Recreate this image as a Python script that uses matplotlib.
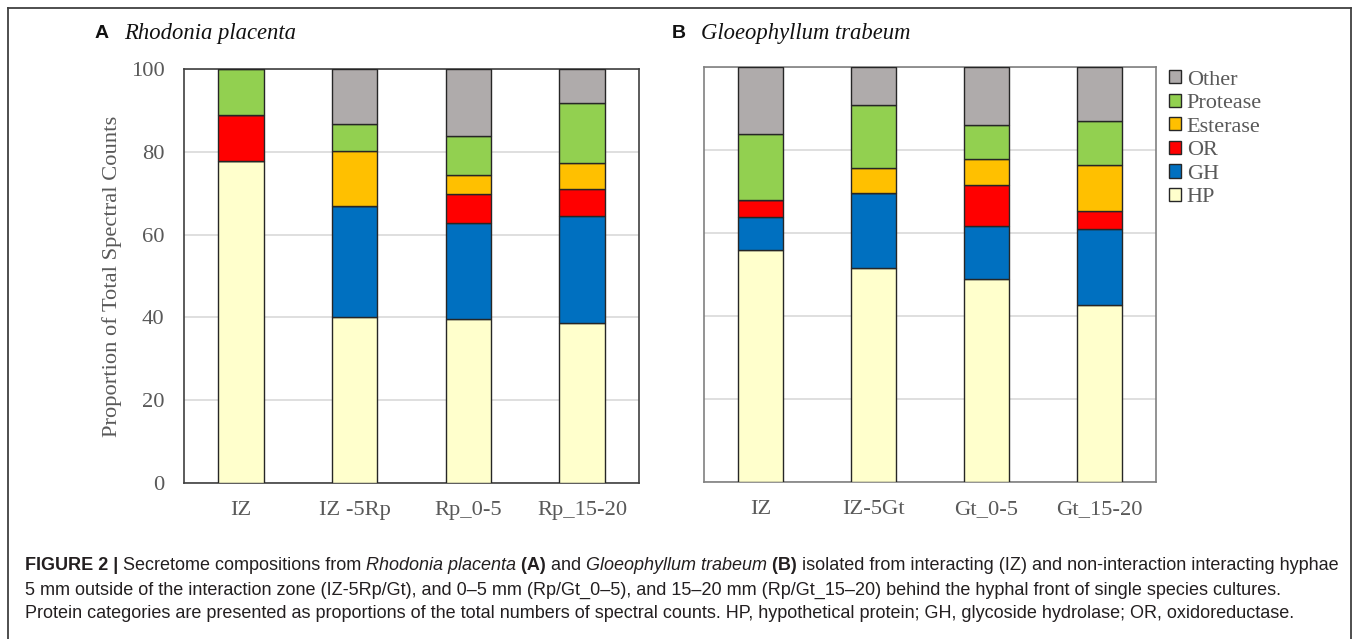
import matplotlib
matplotlib.use('Agg')
import matplotlib.pyplot as plt
from matplotlib.lines import Line2D
from matplotlib.patches import Patch
import numpy as np

# ---- data (percent of total spectral counts) ----
categories = ['HP', 'GH', 'OR', 'Esterase', 'Protease', 'Other']
colors = ['#FFFFCC', '#0070C0', '#FF0000', '#FFC000', '#92D050', '#AFABAB']

rp_labels = ['IZ', 'IZ -5Rp', 'Rp_0-5', 'Rp_15-20']
rp_hp = [77.8, 40.0, 39.5, 38.7]
rp_gh = [0.0, 26.8, 23.3, 25.9]
rp_or = [11.2, 0.0, 7.0, 6.3]
rp_est = [0.0, 13.3, 4.6, 6.5]
rp_prot = [11.0, 6.6, 9.3, 14.5]
rp_other = [0.0, 13.3, 16.3, 8.1]

gt_labels = ['IZ', 'IZ-5Gt', 'Gt_0-5', 'Gt_15-20']
gt_hp = [55.9, 51.5, 48.9, 42.7]
gt_gh = [8.0, 18.1, 12.9, 18.2]
gt_or = [4.0, 0.0, 9.8, 4.5]
gt_est = [0.0, 6.1, 6.2, 10.9]
gt_prot = [16.0, 15.1, 8.2, 10.8]
gt_other = [16.1, 9.2, 14.0, 12.9]

SERIF = 'Liberation Serif'
SANS = 'Liberation Sans'
GREY_TXT = '#595959'
FS = 16.2

W, H = 1358, 639
fig = plt.figure(figsize=(W / 100, H / 100), dpi=100)


def px_axes(x0, y0, x1, y1):
    """axes from pixel box (top-left origin)"""
    return fig.add_axes([x0 / W, 1 - y1 / H, (x1 - x0) / W, (y1 - y0) / H])


def stacked(ax, labels, series, spine_col):
    x = np.arange(len(labels))
    bottom = np.zeros(len(labels))
    for vals, col in zip(series, colors):
        vals = np.array(vals)
        ax.bar(x, vals, 0.4, bottom=bottom, color=col, edgecolor='#262626',
               linewidth=1.0, zorder=3)
        bottom += vals
    ax.set_xlim(-0.5, len(labels) - 0.5)
    ax.set_ylim(0, 100)
    ax.set_yticks([0, 20, 40, 60, 80, 100])
    ax.yaxis.grid(True, color='#d9d9d9', linewidth=1.2, zorder=0)
    ax.set_xticks(x)
    ax.set_xticklabels(labels, family=SERIF, fontsize=FS, color=GREY_TXT)
    ax.tick_params(axis='both', length=0)
    ax.tick_params(axis='x', pad=13)
    ax.tick_params(axis='y', pad=14)
    for s in ax.spines.values():
        s.set_color(spine_col)
        s.set_linewidth(1.2)


axA = px_axes(184, 69, 639, 483)
stacked(axA, rp_labels, [rp_hp, rp_gh, rp_or, rp_est, rp_prot, rp_other], '#404040')
axA.set_yticklabels(['0', '20', '40', '60', '80', '100'], family=SERIF,
                    fontsize=FS, color=GREY_TXT)
axA.set_ylabel('Proportion of Total Spectral Counts', family=SERIF,
               fontsize=FS, color=GREY_TXT, labelpad=6)

axB = px_axes(704, 67, 1156, 482)
stacked(axB, gt_labels, [gt_hp, gt_gh, gt_or, gt_est, gt_prot, gt_other], '#808080')
axB.set_yticklabels([])

# panel titles
fig.text(95 / W, 1 - 34 / H, 'A', family=SANS, weight='bold', fontsize=14,
         va='center', color='#111111')
fig.text(124 / W, 1 - 34 / H, 'Rhodonia placenta', family=SERIF, style='italic',
         fontsize=16.3, va='center', color='#111111')
fig.text(672 / W, 1 - 34 / H, 'B', family=SANS, weight='bold', fontsize=14,
         va='center', color='#111111')
fig.text(701 / W, 1 - 34 / H, 'Gloeophyllum trabeum', family=SERIF, style='italic',
         fontsize=16.3, va='center', color='#111111')

# legend
handles = [Patch(facecolor=c, edgecolor='#262626', linewidth=1.0)
           for c in colors[::-1]]
fig.legend(handles, categories[::-1], loc='upper left',
           bbox_to_anchor=(1169 / W, 1 - 70 / H), frameon=False,
           prop={'family': SERIF, 'size': 16}, labelcolor=GREY_TXT,
           handlelength=0.55, handleheight=0.55, handletextpad=0.25,
           labelspacing=0.18, borderaxespad=0, borderpad=0)

# outer frame (open at the bottom)
frame_col = '#404040'
fig.add_artist(Line2D([8 / W, 8 / W], [0, 1 - 8 / H], color=frame_col, lw=1.3,
                      transform=fig.transFigure))
fig.add_artist(Line2D([8 / W, 1351 / W], [1 - 8 / H, 1 - 8 / H], color=frame_col,
                      lw=1.3, transform=fig.transFigure))
fig.add_artist(Line2D([1351 / W, 1351 / W], [0, 1 - 8 / H], color=frame_col,
                      lw=1.3, transform=fig.transFigure))

# caption, built from styled pieces
cap_lines = [
    [('FIGURE 2 | ', 'bold', 'normal'),
     ('Secretome compositions from ', 'normal', 'normal'),
     ('Rhodonia placenta', 'normal', 'italic'),
     (' (A)', 'bold', 'normal'),
     (' and ', 'normal', 'normal'),
     ('Gloeophyllum trabeum', 'normal', 'italic'),
     (' (B)', 'bold', 'normal'),
     (' isolated from interacting (IZ) and non-interaction interacting hyphae',
      'normal', 'normal')],
    [('5 mm outside of the interaction zone (IZ-5Rp/Gt), and 0\u20135 mm (Rp/Gt_0\u20135), '
      'and 15\u201320 mm (Rp/Gt_15\u201320) behind the hyphal front of single species cultures.',
      'normal', 'normal')],
    [('Protein categories are presented as proportions of the total numbers of '
      'spectral counts. HP, hypothetical protein; GH, glycoside hydrolase; OR, oxidoreductase.',
      'normal', 'normal')],
]
cap_y = [566, 590, 613]

renderer = fig.canvas.get_renderer()
for pieces, yy in zip(cap_lines, cap_y):
    x = 25
    for txt, wt, st in pieces:
        t = fig.text(x / W, 1 - yy / H, txt, family=SANS, weight=wt, style=st,
                     fontsize=12.95, va='center', color='#231f20')
        x += t.get_window_extent(renderer).width

fig.savefig('out.png', dpi=100)
